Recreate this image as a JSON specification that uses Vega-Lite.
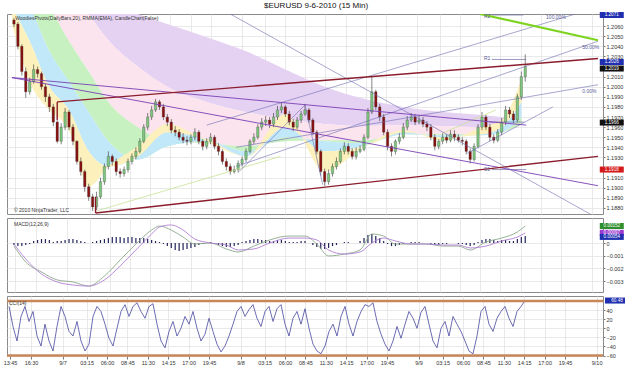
{
"$schema": "https://vega.github.io/schema/vega-lite/v6.json",
"padding": {"left": 2, "top": 1, "right": 0, "bottom": 0},
"background": "white",
"title": {"text": "$EURUSD  9-6-2010 (15 Min)", "fontSize": 8, "fontWeight": "normal", "font": "Liberation Sans", "color": "#111", "offset": 2, "anchor": "middle"},
"spacing": 2,
"config": {
  "view": {"stroke": "#8a8a8a"},
  "axis": {"labelFont": "Liberation Sans", "labelFontSize": 5.5, "labelColor": "#333", "gridColor": "#e3e3e3", "gridWidth": 0.8, "tickColor": "#777", "tickSize": 2, "labelPadding": 1, "labelOverlap": false},
  "text": {"font": "Liberation Sans"}
},
"datasets": {
"bars": [
{"n":0,"o":1.2066,"h":1.2068,"l":1.2059,"c":1.2062,"cci":48,"hist":-0.00016},
{"n":1,"o":1.2062,"h":1.2064,"l":1.2037,"c":1.2040,"cci":4,"hist":-0.00024},
{"n":2,"o":1.2040,"h":1.2042,"l":1.2011,"c":1.2015,"cci":-28,"hist":-0.00024},
{"n":3,"o":1.2015,"h":1.2019,"l":1.1989,"c":1.1995,"cci":26,"hist":-0.00016},
{"n":4,"o":1.1995,"h":1.2009,"l":1.1992,"c":1.2005,"cci":48,"hist":-0.00008},
{"n":5,"o":1.2005,"h":1.2022,"l":1.2003,"c":1.2017,"cci":15,"hist":0.00016},
{"n":6,"o":1.2017,"h":1.2020,"l":1.2009,"c":1.2013,"cci":37,"hist":0.00024},
{"n":7,"o":1.2013,"h":1.2015,"l":1.1997,"c":1.2000,"cci":-17,"hist":0.00031},
{"n":8,"o":1.2000,"h":1.2003,"l":1.1985,"c":1.1990,"cci":-39,"hist":0.00031},
{"n":9,"o":1.1990,"h":1.1993,"l":1.1975,"c":1.1980,"cci":9,"hist":0.00024},
{"n":10,"o":1.1980,"h":1.1983,"l":1.1961,"c":1.1965,"cci":-28,"hist":0.00008},
{"n":11,"o":1.1965,"h":1.1967,"l":1.1944,"c":1.1946,"cci":-50,"hist":0.00016},
{"n":12,"o":1.1946,"h":1.1964,"l":1.1943,"c":1.1960,"cci":4,"hist":0.00016},
{"n":13,"o":1.1960,"h":1.1979,"l":1.1957,"c":1.1975,"cci":48,"hist":0.00024},
{"n":14,"o":1.1975,"h":1.1977,"l":1.1957,"c":1.1960,"cci":26,"hist":0.00031},
{"n":15,"o":1.1960,"h":1.1963,"l":1.1942,"c":1.1946,"cci":-7,"hist":0.00031},
{"n":16,"o":1.1946,"h":1.1947,"l":1.1923,"c":1.1926,"cci":-17,"hist":0.00024},
{"n":17,"o":1.1926,"h":1.1930,"l":1.1912,"c":1.1916,"cci":15,"hist":0.00016},
{"n":18,"o":1.1916,"h":1.1918,"l":1.1896,"c":1.1901,"cci":-28,"hist":0.00008},
{"n":19,"o":1.1901,"h":1.1904,"l":1.1887,"c":1.1891,"cci":-50,"hist":0},
{"n":20,"o":1.1891,"h":1.1894,"l":1.1877,"c":1.1881,"cci":-35,"hist":0.00008},
{"n":21,"o":1.1881,"h":1.1896,"l":1.1878,"c":1.1891,"cci":26,"hist":0.00016},
{"n":22,"o":1.1891,"h":1.1910,"l":1.1889,"c":1.1906,"cci":48,"hist":0.00024},
{"n":23,"o":1.1906,"h":1.1924,"l":1.1903,"c":1.1921,"cci":37,"hist":0.00031},
{"n":24,"o":1.1921,"h":1.1936,"l":1.1918,"c":1.1931,"cci":9,"hist":0.00039},
{"n":25,"o":1.1931,"h":1.1933,"l":1.1922,"c":1.1926,"cci":-22,"hist":0.00047},
{"n":26,"o":1.1926,"h":1.1929,"l":1.1912,"c":1.1916,"cci":-39,"hist":0.00047},
{"n":27,"o":1.1916,"h":1.1919,"l":1.1910,"c":1.1914,"cci":0,"hist":0.00047},
{"n":28,"o":1.1914,"h":1.1921,"l":1.1911,"c":1.1918,"cci":37,"hist":0.00039},
{"n":29,"o":1.1918,"h":1.1929,"l":1.1915,"c":1.1926,"cci":52,"hist":0.00047},
{"n":30,"o":1.1926,"h":1.1934,"l":1.1923,"c":1.1931,"cci":26,"hist":0.00047},
{"n":31,"o":1.1931,"h":1.1940,"l":1.1928,"c":1.1936,"cci":48,"hist":0.00039},
{"n":32,"o":1.1936,"h":1.1949,"l":1.1934,"c":1.1946,"cci":56,"hist":0.00039},
{"n":33,"o":1.1946,"h":1.1963,"l":1.1944,"c":1.1960,"cci":37,"hist":0.00039},
{"n":34,"o":1.1960,"h":1.1974,"l":1.1957,"c":1.1970,"cci":22,"hist":0.00031},
{"n":35,"o":1.1970,"h":1.1981,"l":1.1967,"c":1.1977,"cci":48,"hist":0.00024},
{"n":36,"o":1.1977,"h":1.1988,"l":1.1975,"c":1.1985,"cci":54,"hist":0.00016},
{"n":37,"o":1.1985,"h":1.1987,"l":1.1977,"c":1.1980,"cci":9,"hist":0.00008},
{"n":38,"o":1.1980,"h":1.1983,"l":1.1967,"c":1.1970,"cci":-28,"hist":-0.00008},
{"n":39,"o":1.1970,"h":1.1973,"l":1.1961,"c":1.1965,"cci":-43,"hist":-0.00024},
{"n":40,"o":1.1965,"h":1.1968,"l":1.1954,"c":1.1957,"cci":-7,"hist":-0.00039},
{"n":41,"o":1.1957,"h":1.1961,"l":1.1951,"c":1.1955,"cci":15,"hist":-0.00055},
{"n":42,"o":1.1955,"h":1.1958,"l":1.1947,"c":1.1950,"cci":-17,"hist":-0.00063},
{"n":43,"o":1.1950,"h":1.1954,"l":1.1944,"c":1.1947,"cci":0,"hist":-0.00055},
{"n":44,"o":1.1947,"h":1.1951,"l":1.1942,"c":1.1946,"cci":26,"hist":-0.00047},
{"n":45,"o":1.1946,"h":1.1953,"l":1.1943,"c":1.1950,"cci":9,"hist":-0.00039},
{"n":46,"o":1.1950,"h":1.1959,"l":1.1947,"c":1.1955,"cci":37,"hist":-0.00031},
{"n":47,"o":1.1955,"h":1.1957,"l":1.1943,"c":1.1946,"cci":0,"hist":-0.00016},
{"n":48,"o":1.1946,"h":1.1948,"l":1.1937,"c":1.1941,"cci":-28,"hist":-0.00008},
{"n":49,"o":1.1941,"h":1.1949,"l":1.1938,"c":1.1946,"cci":-13,"hist":0},
{"n":50,"o":1.1946,"h":1.1954,"l":1.1943,"c":1.1950,"cci":22,"hist":0.00008},
{"n":51,"o":1.1950,"h":1.1952,"l":1.1938,"c":1.1941,"cci":-7,"hist":-0.00008},
{"n":52,"o":1.1941,"h":1.1944,"l":1.1932,"c":1.1936,"cci":-35,"hist":-0.00016},
{"n":53,"o":1.1936,"h":1.1938,"l":1.1923,"c":1.1926,"cci":-52,"hist":-0.00024},
{"n":54,"o":1.1926,"h":1.1929,"l":1.1917,"c":1.1921,"cci":-39,"hist":-0.00031},
{"n":55,"o":1.1921,"h":1.1924,"l":1.1913,"c":1.1916,"cci":-17,"hist":-0.00031},
{"n":56,"o":1.1916,"h":1.1922,"l":1.1914,"c":1.1918,"cci":9,"hist":-0.00024},
{"n":57,"o":1.1918,"h":1.1927,"l":1.1915,"c":1.1924,"cci":37,"hist":-0.00016},
{"n":58,"o":1.1924,"h":1.1931,"l":1.1921,"c":1.1928,"cci":48,"hist":0.00008},
{"n":59,"o":1.1928,"h":1.1939,"l":1.1925,"c":1.1936,"cci":26,"hist":0.00016},
{"n":60,"o":1.1936,"h":1.1948,"l":1.1934,"c":1.1946,"cci":41,"hist":0.00024},
{"n":61,"o":1.1946,"h":1.1954,"l":1.1943,"c":1.1950,"cci":52,"hist":0.00031},
{"n":62,"o":1.1950,"h":1.1963,"l":1.1948,"c":1.1960,"cci":22,"hist":0.00031},
{"n":63,"o":1.1960,"h":1.1969,"l":1.1957,"c":1.1965,"cci":4,"hist":0.00024},
{"n":64,"o":1.1965,"h":1.1971,"l":1.1961,"c":1.1967,"cci":37,"hist":0.00024},
{"n":65,"o":1.1967,"h":1.1970,"l":1.1959,"c":1.1963,"cci":48,"hist":0.00016},
{"n":66,"o":1.1963,"h":1.1974,"l":1.1960,"c":1.1970,"cci":15,"hist":0.00016},
{"n":67,"o":1.1970,"h":1.1981,"l":1.1967,"c":1.1977,"cci":43,"hist":0.00024},
{"n":68,"o":1.1977,"h":1.1984,"l":1.1974,"c":1.1980,"cci":52,"hist":0.00024},
{"n":69,"o":1.1980,"h":1.1982,"l":1.1970,"c":1.1973,"cci":9,"hist":0.00016},
{"n":70,"o":1.1973,"h":1.1976,"l":1.1962,"c":1.1965,"cci":-17,"hist":0.00008},
{"n":71,"o":1.1965,"h":1.1968,"l":1.1956,"c":1.1960,"cci":22,"hist":0.00008},
{"n":72,"o":1.1960,"h":1.1970,"l":1.1958,"c":1.1967,"cci":37,"hist":0.00008},
{"n":73,"o":1.1967,"h":1.1976,"l":1.1964,"c":1.1973,"cci":9,"hist":0.00016},
{"n":74,"o":1.1973,"h":1.1983,"l":1.1971,"c":1.1977,"cci":43,"hist":0.00016},
{"n":75,"o":1.1977,"h":1.1979,"l":1.1964,"c":1.1967,"cci":0,"hist":0},
{"n":76,"o":1.1967,"h":1.1969,"l":1.1952,"c":1.1955,"cci":-35,"hist":-0.00016},
{"n":77,"o":1.1955,"h":1.1957,"l":1.1933,"c":1.1936,"cci":-50,"hist":-0.00031},
{"n":78,"o":1.1936,"h":1.1938,"l":1.1912,"c":1.1916,"cci":-56,"hist":-0.00047},
{"n":79,"o":1.1916,"h":1.1919,"l":1.1902,"c":1.1906,"cci":-39,"hist":-0.00047},
{"n":80,"o":1.1906,"h":1.1918,"l":1.1903,"c":1.1914,"cci":-7,"hist":-0.00039},
{"n":81,"o":1.1914,"h":1.1924,"l":1.1911,"c":1.1921,"cci":9,"hist":-0.00024},
{"n":82,"o":1.1921,"h":1.1930,"l":1.1918,"c":1.1926,"cci":-17,"hist":-0.00016},
{"n":83,"o":1.1926,"h":1.1939,"l":1.1924,"c":1.1936,"cci":26,"hist":0},
{"n":84,"o":1.1936,"h":1.1945,"l":1.1933,"c":1.1941,"cci":48,"hist":0.00008},
{"n":85,"o":1.1941,"h":1.1944,"l":1.1933,"c":1.1936,"cci":9,"hist":0.00008},
{"n":86,"o":1.1936,"h":1.1939,"l":1.1928,"c":1.1931,"cci":-17,"hist":0},
{"n":87,"o":1.1931,"h":1.1940,"l":1.1928,"c":1.1936,"cci":15,"hist":0},
{"n":88,"o":1.1936,"h":1.1942,"l":1.1934,"c":1.1938,"cci":37,"hist":0.00016},
{"n":89,"o":1.1938,"h":1.1953,"l":1.1936,"c":1.1950,"cci":52,"hist":0.00039},
{"n":90,"o":1.1950,"h":1.1979,"l":1.1948,"c":1.1975,"cci":48,"hist":0.00063},
{"n":91,"o":1.1975,"h":1.2010,"l":1.1973,"c":1.1995,"cci":56,"hist":0.00071},
{"n":92,"o":1.1995,"h":1.1997,"l":1.1977,"c":1.1980,"cci":15,"hist":0.00055},
{"n":93,"o":1.1980,"h":1.1983,"l":1.1966,"c":1.1970,"cci":-13,"hist":0.00039},
{"n":94,"o":1.1970,"h":1.1973,"l":1.1952,"c":1.1955,"cci":-35,"hist":0.00016},
{"n":95,"o":1.1955,"h":1.1958,"l":1.1937,"c":1.1941,"cci":-50,"hist":-0.00008},
{"n":96,"o":1.1941,"h":1.1944,"l":1.1931,"c":1.1936,"cci":-28,"hist":-0.00024},
{"n":97,"o":1.1936,"h":1.1948,"l":1.1933,"c":1.1946,"cci":4,"hist":-0.00024},
{"n":98,"o":1.1946,"h":1.1954,"l":1.1943,"c":1.1950,"cci":-22,"hist":-0.00016},
{"n":99,"o":1.1950,"h":1.1964,"l":1.1948,"c":1.1960,"cci":9,"hist":-0.00008},
{"n":100,"o":1.1960,"h":1.1971,"l":1.1957,"c":1.1967,"cci":37,"hist":0},
{"n":101,"o":1.1967,"h":1.1974,"l":1.1965,"c":1.1970,"cci":22,"hist":0.00008},
{"n":102,"o":1.1970,"h":1.1973,"l":1.1962,"c":1.1965,"cci":0,"hist":0.00008},
{"n":103,"o":1.1965,"h":1.1971,"l":1.1963,"c":1.1967,"cci":35,"hist":0.00008},
{"n":104,"o":1.1967,"h":1.1970,"l":1.1960,"c":1.1963,"cci":48,"hist":0},
{"n":105,"o":1.1963,"h":1.1966,"l":1.1956,"c":1.1960,"cci":9,"hist":0},
{"n":106,"o":1.1960,"h":1.1963,"l":1.1947,"c":1.1950,"cci":-28,"hist":-0.00008},
{"n":107,"o":1.1950,"h":1.1953,"l":1.1937,"c":1.1941,"cci":-43,"hist":-0.00016},
{"n":108,"o":1.1941,"h":1.1948,"l":1.1938,"c":1.1946,"cci":0,"hist":-0.00016},
{"n":109,"o":1.1946,"h":1.1954,"l":1.1943,"c":1.1950,"cci":15,"hist":-0.00008},
{"n":110,"o":1.1950,"h":1.1953,"l":1.1944,"c":1.1947,"cci":-17,"hist":-0.00008},
{"n":111,"o":1.1947,"h":1.1957,"l":1.1945,"c":1.1953,"cci":26,"hist":0},
{"n":112,"o":1.1953,"h":1.1957,"l":1.1946,"c":1.1950,"cci":9,"hist":0},
{"n":113,"o":1.1950,"h":1.1953,"l":1.1945,"c":1.1947,"cci":-7,"hist":-0.00008},
{"n":114,"o":1.1947,"h":1.1950,"l":1.1942,"c":1.1946,"cci":-28,"hist":-0.00008},
{"n":115,"o":1.1946,"h":1.1948,"l":1.1933,"c":1.1936,"cci":-50,"hist":-0.00016},
{"n":116,"o":1.1936,"h":1.1939,"l":1.1924,"c":1.1928,"cci":-56,"hist":-0.00024},
{"n":117,"o":1.1928,"h":1.1944,"l":1.1926,"c":1.1941,"cci":-17,"hist":-0.00016},
{"n":118,"o":1.1941,"h":1.1963,"l":1.1939,"c":1.1960,"cci":37,"hist":0.00008},
{"n":119,"o":1.1960,"h":1.1975,"l":1.1957,"c":1.1970,"cci":48,"hist":0.00024},
{"n":120,"o":1.1970,"h":1.1972,"l":1.1957,"c":1.1960,"cci":9,"hist":0.00031},
{"n":121,"o":1.1960,"h":1.1963,"l":1.1946,"c":1.1950,"cci":-7,"hist":0.00031},
{"n":122,"o":1.1950,"h":1.1953,"l":1.1944,"c":1.1947,"cci":22,"hist":0.00024},
{"n":123,"o":1.1947,"h":1.1958,"l":1.1945,"c":1.1955,"cci":37,"hist":0.00016},
{"n":124,"o":1.1955,"h":1.1969,"l":1.1952,"c":1.1965,"cci":48,"hist":0.00024},
{"n":125,"o":1.1965,"h":1.1981,"l":1.1962,"c":1.1977,"cci":22,"hist":0.00024},
{"n":126,"o":1.1977,"h":1.1980,"l":1.1969,"c":1.1973,"cci":4,"hist":0.00016},
{"n":127,"o":1.1973,"h":1.1976,"l":1.1964,"c":1.1967,"cci":37,"hist":0.00016},
{"n":128,"o":1.1967,"h":1.1993,"l":1.1965,"c":1.1990,"cci":48,"hist":0.00031},
{"n":129,"o":1.1990,"h":1.2015,"l":1.1987,"c":1.2010,"cci":61,"hist":0.00047},
{"n":130,"o":1.2010,"h":1.2032,"l":1.2005,"c":1.2020,"cci":61,"hist":0.00055}
],
"macd": [
{"n":0,"macd":-0.00024,"sig":-0.00008},
{"n":3,"macd":-0.0015,"sig":-0.00126},
{"n":7,"macd":-0.00228,"sig":-0.00244},
{"n":11,"macd":-0.00291,"sig":-0.00307},
{"n":15,"macd":-0.00307,"sig":-0.00331},
{"n":19,"macd":-0.00339,"sig":-0.00339},
{"n":23,"macd":-0.0026,"sig":-0.00291},
{"n":27,"macd":-0.00134,"sig":-0.00181},
{"n":31,"macd":-0.00008,"sig":-0.00055},
{"n":35,"macd":0.00102,"sig":0.00071},
{"n":37,"macd":0.00134,"sig":0.00126},
{"n":40,"macd":0.00102,"sig":0.00142},
{"n":43,"macd":0.00047,"sig":0.00102},
{"n":46,"macd":-0.00008,"sig":0.00031},
{"n":50,"macd":0,"sig":0},
{"n":54,"macd":-0.00047,"sig":-0.00016},
{"n":57,"macd":-0.00071,"sig":-0.00055},
{"n":61,"macd":-0.00024,"sig":-0.00047},
{"n":65,"macd":0.00024,"sig":0},
{"n":70,"macd":0.00055,"sig":0.00039},
{"n":74,"macd":0.00055,"sig":0.00039},
{"n":77,"macd":-0.00008,"sig":0.00024},
{"n":80,"macd":-0.00102,"sig":-0.00055},
{"n":84,"macd":-0.00087,"sig":-0.00087},
{"n":88,"macd":-0.00055,"sig":-0.00071},
{"n":91,"macd":0.00071,"sig":0},
{"n":94,"macd":0.00055,"sig":0.00039},
{"n":97,"macd":-0.00008,"sig":0.00016},
{"n":101,"macd":-0.00008,"sig":-0.00008},
{"n":105,"macd":-0.00008,"sig":-0.00008},
{"n":109,"macd":-0.00024,"sig":-0.00016},
{"n":113,"macd":-0.00024,"sig":-0.00016},
{"n":116,"macd":-0.00055,"sig":-0.00039},
{"n":120,"macd":0.00008,"sig":-0.00024},
{"n":124,"macd":0.00039,"sig":0.00016},
{"n":128,"macd":0.00087,"sig":0.00047},
{"n":130,"macd":0.00134,"sig":0.00079}
],
"ma": [
{"n":-0.5,"m0":1.2062,"m1":1.2079,"m2":1.2104,"m3":1.2144,"m4":1.2204,"m5":1.2284},
{"n":4,"m0":1.2005,"m1":1.2045,"m2":1.2079,"m3":1.2109,"m4":1.2164,"m5":1.2234},
{"n":9,"m0":1.1977,"m1":1.2000,"m2":1.2035,"m3":1.2079,"m4":1.2134,"m5":1.2194},
{"n":14,"m0":1.1957,"m1":1.1977,"m2":1.2005,"m3":1.2045,"m4":1.2099,"m5":1.2154},
{"n":19,"m0":1.1901,"m1":1.1936,"m2":1.1975,"m3":1.2015,"m4":1.2072,"m5":1.2119},
{"n":24,"m0":1.1921,"m1":1.1921,"m2":1.1946,"m3":1.1985,"m4":1.2046,"m5":1.2084},
{"n":31.5,"m0":1.1941,"m1":1.1931,"m2":1.1928,"m3":1.1960,"m4":1.2020,"m5":1.2072},
{"n":39,"m0":1.1963,"m1":1.1955,"m2":1.1941,"m3":1.1946,"m4":1.2000,"m5":1.2062},
{"n":49,"m0":1.1946,"m1":1.1948,"m2":1.1946,"m3":1.1944,"m4":1.1985,"m5":1.2049},
{"n":59,"m0":1.1931,"m1":1.1931,"m2":1.1936,"m3":1.1941,"m4":1.1975,"m5":1.2035},
{"n":69,"m0":1.1973,"m1":1.1960,"m2":1.1950,"m3":1.1946,"m4":1.1968,"m5":1.2017},
{"n":79,"m0":1.1916,"m1":1.1936,"m2":1.1946,"m3":1.1947,"m4":1.1963,"m5":1.2000},
{"n":89,"m0":1.1941,"m1":1.1941,"m2":1.1944,"m3":1.1947,"m4":1.1961,"m5":1.1988},
{"n":99,"m0":1.1957,"m1":1.1955,"m2":1.1953,"m3":1.1953,"m4":1.1962,"m5":1.1980},
{"n":109,"m0":1.1947,"m1":1.1950,"m2":1.1952,"m3":1.1953,"m4":1.1961,"m5":1.1975},
{"n":119,"m0":1.1960,"m1":1.1953,"m2":1.1952,"m3":1.1953,"m4":1.1960,"m5":1.1972},
{"n":124,"m0":1.1967,"m1":1.1960,"m2":1.1955,"m3":1.1955,"m4":1.1960,"m5":1.1970},
{"n":129,"m0":1.2007,"m1":1.1985,"m2":1.1970,"m3":1.1963,"m4":1.1963,"m5":1.1969}
],
"lines": [
{"kind":"channel","x1":11,"y1":1.1985,"x2":148.5,"y2":1.2028},
{"kind":"channel","x1":11,"y1":1.1985,"x2":11,"y2":1.1967},
{"kind":"channel","x1":20.75,"y1":1.1875,"x2":148.5,"y2":1.1931},
{"kind":"channel","x1":20.75,"y1":1.1891,"x2":20.75,"y2":1.1875},
{"kind":"purple","x1":-0.5,"y1":1.2009,"x2":148.5,"y2":1.1902},
{"kind":"purple","x1":-0.5,"y1":1.2009,"x2":130.25,"y2":1.1962},
{"kind":"fib","x1":55,"y1":1.2072,"x2":146.5,"y2":1.1874},
{"kind":"fib","x1":49,"y1":1.1962,"x2":142.75,"y2":1.2072},
{"kind":"fib","x1":56.5,"y1":1.1921,"x2":148.5,"y2":1.2045},
{"kind":"fib","x1":56.5,"y1":1.1940,"x2":148.5,"y2":1.2002},
{"kind":"fib","x1":115.25,"y1":1.1934,"x2":137,"y2":1.1980},
{"kind":"fib","x1":74,"y1":1.1982,"x2":78.5,"y2":1.1903},
{"kind":"fib","x1":57.25,"y1":1.1916,"x2":74,"y2":1.1982},
{"kind":"lime","x1":118.5,"y1":1.2072,"x2":148.5,"y2":1.2046},
{"kind":"pale","x1":21,"y1":1.1877,"x2":67.75,"y2":1.1931},
{"kind":"pale","x1":109,"y1":1.1954,"x2":122.5,"y2":1.1977},
{"kind":"pivot","x1":121.5,"y1":1.2071,"x2":129.5,"y2":1.2071},
{"kind":"pivot","x1":121.5,"y1":1.2027,"x2":130.25,"y2":1.2027},
{"kind":"pivot","x1":120.75,"y1":1.1965,"x2":129.75,"y2":1.1965},
{"kind":"pivot","x1":121.5,"y1":1.1918,"x2":130.25,"y2":1.1918}
],
"notes": [
{"n":0.3,"v":1.2068,"t":"WoodiesPivots(DailyBars,20), RMMA(EMA), CandleChart(False)"},
{"n":0,"v":1.1878,"t":"© 2010 NinjaTrader, LLC"}
],
"pivlabels": [
{"n":119.5,"v":1.2070,"t":"R2"},
{"n":119.5,"v":1.2028,"t":"R1"},
{"n":119.5,"v":1.1919,"t":"S1"},
{"n":135.3,"v":1.2069,"t":"100.00%"},
{"n":144.5,"v":1.2039,"t":"50.00%"},
{"n":144.5,"v":1.1996,"t":"0.00%"}
],
"pboxes": [
{"n":152,"v":1.2071,"t":"1.2071","k":"R2"},
{"n":152,"v":1.20245,"t":"1.2026","k":"channel"},
{"n":152,"v":1.2018,"t":"1.2019","k":"close"},
{"n":152,"v":1.19645,"t":"1.1966","k":"pivot"},
{"n":152,"v":1.1918,"t":"1.1918","k":"S1"}
],
"mboxes": [
{"n":152,"v":0.00134,"t":"0.00152","k":"macd"},
{"n":152,"v":0.00080,"t":"0.00097","k":"avg"},
{"n":152,"v":0.00048,"t":"0.00054","k":"diff"}
],
"cboxes": [
{"n":152,"v":61,"t":"60.48","k":"cci"}
],
"levels": [{"lvl":60},{"lvl":-60}]
},
"vconcat": [
{
 "width": 596, "height": 200,
 "resolve": {"axis": {"y": "independent", "x": "independent"}},
 "encoding": {"x": {"field": "n", "type": "quantitative", "scale": {"domain": [-0.5, 148.5], "nice": false, "zero": false}, "axis": null}},
 "layer": [
  {"data": {"name": "ma"}, "mark": {"type": "area", "color": "#e5d1f2", "interpolate": "monotone", "clip": true},
   "encoding": {
     "x": {"field": "n", "type": "quantitative", "axis": {"values": [0.25,5.5,13.4,19.4,24.5,29.6,34.7,39.8,44.9,50,57.9,63.9,69,74.1,79.2,84.3,89.4,94.5,102.4,108.4,113.5,118.6,123.7,128.8,133.9,139,146.9], "labels": false, "ticks": false, "domain": false, "grid": true, "title": null}},
     "y": {"field": "m4", "type": "quantitative", "scale": {"domain": [1.1874, 1.2072], "nice": false, "zero": false}, "axis": {"orient": "right", "values": [1.188,1.189,1.19,1.191,1.193,1.194,1.195,1.196,1.197,1.198,1.199,1.2,1.201,1.203,1.204,1.205,1.206], "format": ".4f", "grid": true, "domain": false, "title": null, "labelOverlap": false}}, "y2": {"field": "m5"}}},
  {"data": {"name": "ma"}, "mark": {"type": "area", "color": "#fbe4ee", "interpolate": "monotone", "clip": true},
   "encoding": {"y": {"field": "m3", "type": "quantitative", "axis": null}, "y2": {"field": "m4"}}},
  {"data": {"name": "ma"}, "mark": {"type": "area", "color": "#c8f1c2", "interpolate": "monotone", "clip": true},
   "encoding": {"y": {"field": "m2", "type": "quantitative", "axis": null}, "y2": {"field": "m3"}}},
  {"data": {"name": "ma"}, "mark": {"type": "area", "color": "#c0e8f9", "interpolate": "monotone", "clip": true},
   "encoding": {"y": {"field": "m1", "type": "quantitative", "axis": null}, "y2": {"field": "m2"}}},
  {"data": {"name": "ma"}, "mark": {"type": "area", "color": "#fcf0bd", "interpolate": "monotone", "clip": true},
   "encoding": {"y": {"field": "m0", "type": "quantitative", "axis": null}, "y2": {"field": "m1"}}},
  {"data": {"name": "bars"}, "mark": {"type": "rule", "color": "#333", "strokeWidth": 0.6},
   "encoding": {"y": {"field": "l", "type": "quantitative", "axis": null}, "y2": {"field": "h"}}},
  {"data": {"name": "bars"}, "mark": {"type": "bar", "width": 2.4, "stroke": "#333", "strokeWidth": 0.3},
   "encoding": {"y": {"field": "o", "type": "quantitative", "axis": null}, "y2": {"field": "c"},
     "color": {"condition": {"test": "datum.c >= datum.o", "value": "#7ec87e"}, "value": "#8a1010"}}},
  {"data": {"name": "lines"}, "transform": [{"filter": "datum.kind == 'pale'"}], "mark": {"type": "rule", "clip": true, "color": "#c8e294", "strokeWidth": 0.8},
   "encoding": {"x": {"field": "x1", "type": "quantitative", "axis": null}, "x2": {"field": "x2"}, "y": {"field": "y1", "type": "quantitative", "axis": null}, "y2": {"field": "y2"}}},
  {"data": {"name": "lines"}, "transform": [{"filter": "datum.kind == 'fib'"}], "mark": {"type": "rule", "clip": true, "color": "#6c6cb0", "strokeWidth": 0.6},
   "encoding": {"x": {"field": "x1", "type": "quantitative", "axis": null}, "x2": {"field": "x2"}, "y": {"field": "y1", "type": "quantitative", "axis": null}, "y2": {"field": "y2"}}},
  {"data": {"name": "lines"}, "transform": [{"filter": "datum.kind == 'pivot'"}], "mark": {"type": "rule", "clip": true, "color": "#7070a8", "strokeWidth": 0.7},
   "encoding": {"x": {"field": "x1", "type": "quantitative", "axis": null}, "x2": {"field": "x2"}, "y": {"field": "y1", "type": "quantitative", "axis": null}, "y2": {"field": "y2"}}},
  {"data": {"name": "lines"}, "transform": [{"filter": "datum.kind == 'purple'"}], "mark": {"type": "rule", "clip": true, "color": "#7b40b5", "strokeWidth": 0.9},
   "encoding": {"x": {"field": "x1", "type": "quantitative", "axis": null}, "x2": {"field": "x2"}, "y": {"field": "y1", "type": "quantitative", "axis": null}, "y2": {"field": "y2"}}},
  {"data": {"name": "lines"}, "transform": [{"filter": "datum.kind == 'channel'"}], "mark": {"type": "rule", "clip": true, "color": "#8b1c2c", "strokeWidth": 1.4},
   "encoding": {"x": {"field": "x1", "type": "quantitative", "axis": null}, "x2": {"field": "x2"}, "y": {"field": "y1", "type": "quantitative", "axis": null}, "y2": {"field": "y2"}}},
  {"data": {"name": "lines"}, "transform": [{"filter": "datum.kind == 'lime'"}], "mark": {"type": "rule", "clip": true, "color": "#7ed321", "strokeWidth": 2.2},
   "encoding": {"x": {"field": "x1", "type": "quantitative", "axis": null}, "x2": {"field": "x2"}, "y": {"field": "y1", "type": "quantitative", "axis": null}, "y2": {"field": "y2"}}},
  {"data": {"name": "notes"}, "mark": {"type": "text", "align": "left", "baseline": "middle", "fontSize": 5, "color": "#333"},
   "encoding": {"y": {"field": "v", "type": "quantitative", "axis": null}, "text": {"field": "t"}}},
  {"data": {"name": "pivlabels"}, "mark": {"type": "text", "align": "left", "baseline": "middle", "fontSize": 5, "color": "#5a5a9a"},
   "encoding": {"y": {"field": "v", "type": "quantitative", "axis": null}, "text": {"field": "t"}}},
  {"data": {"name": "pboxes"}, "mark": {"type": "point", "shape": "M-1,-0.25H1V0.25H-1Z", "filled": true, "size": 576, "opacity": 1},
   "encoding": {"y": {"field": "v", "type": "quantitative", "axis": null},
     "color": {"condition": [{"test": "datum.k == 'close' || datum.k == 'pivot'", "value": "#111111"}, {"test": "datum.k == 'S1'", "value": "#d41a1a"}], "value": "#1f2fb0"}}},
  {"data": {"name": "pboxes"}, "mark": {"type": "text", "align": "center", "baseline": "middle", "fontSize": 4.6, "color": "white"},
   "encoding": {"y": {"field": "v", "type": "quantitative", "axis": null}, "text": {"field": "t"}}}
 ]
},
{
 "width": 596, "height": 74,
 "resolve": {"axis": {"y": "independent", "x": "independent"}},
 "encoding": {"x": {"field": "n", "type": "quantitative", "scale": {"domain": [-0.5, 148.5], "nice": false, "zero": false}, "axis": null}},
 "layer": [
  {"data": {"name": "bars"}, "mark": {"type": "bar", "width": 1.2, "color": "#23235a"},
   "encoding": {
     "x": {"field": "n", "type": "quantitative", "axis": {"values": [0.25,5.5,13.4,19.4,24.5,29.6,34.7,39.8,44.9,50,57.9,63.9,69,74.1,79.2,84.3,89.4,94.5,102.4,108.4,113.5,118.6,123.7,128.8,133.9,139,146.9], "labels": false, "ticks": false, "domain": false, "grid": true, "title": null}},
     "y": {"field": "hist", "type": "quantitative", "scale": {"domain": [-0.00386, 0.00197], "nice": false, "zero": false}, "axis": {"orient": "right", "values": [0, -0.001, -0.002, -0.003], "labelExpr": "datum.value == 0 ? '0' : format(datum.value, '.3f')", "grid": true, "domain": false, "title": null, "labelOverlap": false}}, "y2": {"datum": 0}}},
  {"data": {"name": "macd"}, "mark": {"type": "line", "color": "#8aa88a", "strokeWidth": 0.9, "interpolate": "monotone"},
   "encoding": {"y": {"field": "macd", "type": "quantitative", "axis": null}}},
  {"data": {"name": "macd"}, "mark": {"type": "line", "color": "#b07fd4", "strokeWidth": 0.9, "interpolate": "monotone"},
   "encoding": {"y": {"field": "sig", "type": "quantitative", "axis": null}}},
  {"data": {"values": [{"n": 0, "v": 0.00152, "t": "MACD(12,26,9)"}]}, "mark": {"type": "text", "align": "left", "baseline": "middle", "fontSize": 5, "color": "#333"},
   "encoding": {"y": {"field": "v", "type": "quantitative", "axis": null}, "text": {"field": "t"}}},
  {"data": {"name": "mboxes"}, "mark": {"type": "point", "shape": "M-1,-0.25H1V0.25H-1Z", "filled": true, "size": 576, "opacity": 1},
   "encoding": {"y": {"field": "v", "type": "quantitative", "axis": null},
     "color": {"condition": [{"test": "datum.k == 'macd'", "value": "#2f8f2f"}, {"test": "datum.k == 'avg'", "value": "#9a3ad0"}], "value": "#1f2fb0"}}},
  {"data": {"name": "mboxes"}, "mark": {"type": "text", "align": "center", "baseline": "middle", "fontSize": 4.5, "color": "white"},
   "encoding": {"y": {"field": "v", "type": "quantitative", "axis": null}, "text": {"field": "t"}}}
 ]
},
{
 "width": 596, "height": 60,
 "resolve": {"axis": {"y": "independent", "x": "independent"}},
 "encoding": {"x": {"field": "n", "type": "quantitative", "scale": {"domain": [-0.5, 148.5], "nice": false, "zero": false}, "axis": null}},
 "layer": [
  {"data": {"name": "bars"}, "mark": {"type": "line", "color": "#4646a0", "strokeWidth": 0.8},
   "encoding": {
     "x": {"field": "n", "type": "quantitative", "axis": {"values": [0.25,5.5,13.4,19.4,24.5,29.6,34.7,39.8,44.9,50,57.9,63.9,69,74.1,79.2,84.3,89.4,94.5,102.4,108.4,113.5,118.6,123.7,128.8,133.9,139,146.9], "labelExpr": "['13:45','16:30','9/7','03:15','06:00','08:45','11:30','14:15','17:00','19:45','9/8','03:15','06:00','08:45','11:30','14:15','17:00','19:45','9/9','03:15','06:00','08:45','11:30','14:15','17:00','19:45','9/10'][indexof([0.25,5.5,13.4,19.4,24.5,29.6,34.7,39.8,44.9,50,57.9,63.9,69,74.1,79.2,84.3,89.4,94.5,102.4,108.4,113.5,118.6,123.7,128.8,133.9,139,146.9], datum.value)]", "grid": true, "ticks": true, "tickSize": 3, "domain": false, "labelFlush": false, "title": null}},
     "y": {"field": "cci", "type": "quantitative", "scale": {"domain": [-61, 71], "nice": false, "zero": false}, "axis": {"orient": "right", "values": [40, 20, 0, -20, -40, -60], "grid": true, "domain": false, "title": null, "labelOverlap": false}}}},
  {"data": {"name": "levels"}, "mark": {"type": "rule", "color": "#c8875a", "strokeWidth": 2.5},
   "encoding": {"x": null, "y": {"field": "lvl", "type": "quantitative", "axis": null}}},
  {"data": {"values": [{"n": 0, "v": 55, "t": "CCI(14)"}]}, "mark": {"type": "text", "align": "left", "baseline": "middle", "fontSize": 5, "color": "#333"},
   "encoding": {"y": {"field": "v", "type": "quantitative", "axis": null}, "text": {"field": "t"}}},
  {"data": {"name": "cboxes"}, "mark": {"type": "point", "shape": "M-1,-0.25H1V0.25H-1Z", "filled": true, "size": 576, "opacity": 1, "color": "#1f2fb0"},
   "encoding": {"y": {"field": "v", "type": "quantitative", "axis": null}}},
  {"data": {"name": "cboxes"}, "mark": {"type": "text", "align": "center", "baseline": "middle", "fontSize": 4.6, "color": "white"},
   "encoding": {"y": {"field": "v", "type": "quantitative", "axis": null}, "text": {"field": "t"}}}
 ]
}
]
}
